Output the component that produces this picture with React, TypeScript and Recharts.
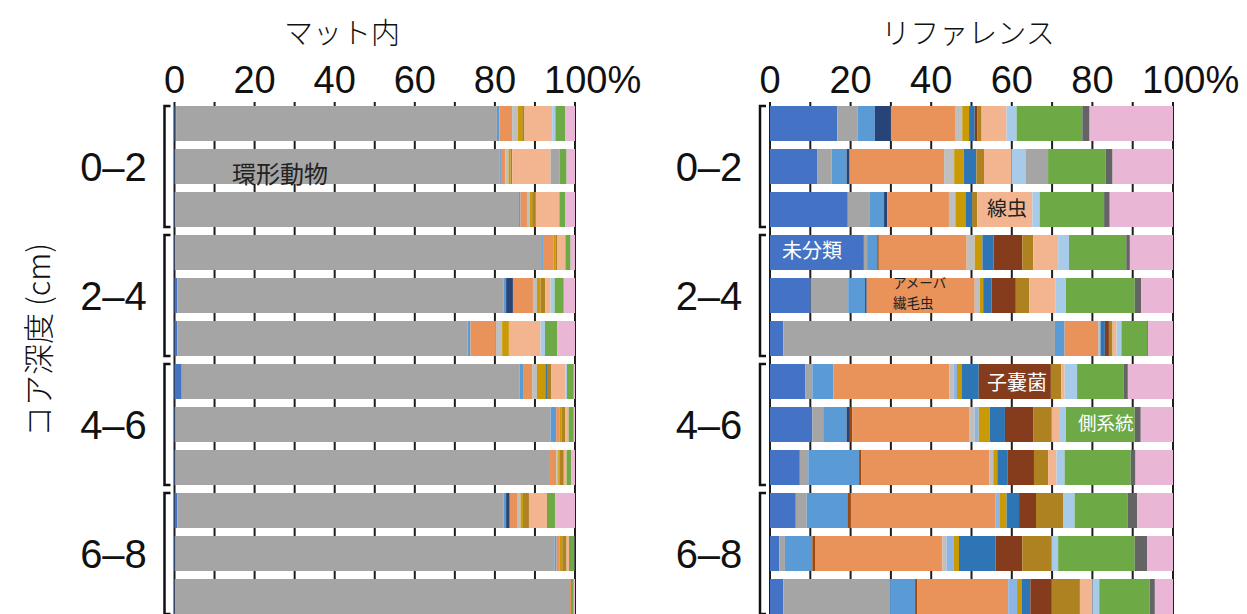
import React from "react";
import { BarChart, Bar, XAxis, YAxis, CartesianGrid } from "recharts";

// one row per bar, top to bottom (3 cores per depth)
const rows = ["0-2a", "0-2b", "0-2c", "2-4a", "2-4b", "2-4c", "4-6a", "4-6b", "4-6c", "6-8a", "6-8b", "6-8c"];
const depthLabels = ["0–2", "2–4", "4–6", "6–8"];
const tickValues = [0, 1, 2, 3, 4, 5, 6, 7, 8, 9, 10].map((i) => i / 10);

// series, left to right in each bar
const seriesKeys = ["unc", "ann", "mblue", "navy", "rust", "amoe", "lgrey", "pblue", "gold", "blue", "asco", "dgold", "nema", "lblue", "grey2", "para", "dgrey", "pink"];
const seriesColors = ["#4472C4", "#A5A5A5", "#5B9BD5", "#264478", "#9E480E", "#E9925A", "#BFBFBF", "#8EB4E3", "#C99A06", "#2E75B6", "#843C1C", "#AE8121", "#F2B590", "#A9CBEA", "#A5A5A5", "#6DA945", "#646464", "#E9B6D5"];

// マット内 (%)
const matUnc = [0.4, 0.2, 0.1, 0.1, 0.7, 0.7, 1.8, 0.2, 0.2, 0.7, 0.2, 0.1];
const matAnn = [80.1, 81.0, 85.9, 91.7, 81.5, 72.5, 84.4, 93.7, 93.3, 81.5, 94.7, 98.4];
const matMblue = [0.6, 0.3, 0.4, 0.4, 0.6, 0.7, 1.0, 1.4, 0.2, 0.6, 0.5, 0];
const matNavy = [0, 0, 0, 0, 1.7, 0, 0, 0, 0, 0.9, 0, 0];
const matRust = [0, 0, 0, 0, 0, 0, 0, 0, 0, 0, 0, 0];
const matAmoe = [3.2, 1.1, 1.6, 2.5, 5.0, 6.2, 2.1, 0.8, 1.6, 2.0, 0.8, 0.5];
const matLgrey = [1.4, 0.8, 0.7, 0, 1.0, 1.7, 1.2, 0, 0.5, 0.7, 0, 0];
const matPblue = [0, 0, 0, 0, 0, 0, 0, 0, 0, 0, 0, 0];
const matGold = [1.1, 0.5, 0.6, 0.4, 0.9, 1.7, 2.1, 0.5, 0.4, 0.6, 0.6, 0];
const matBlue = [0, 0, 0, 0, 0, 0, 0.4, 0, 0, 0, 0, 0];
const matAsco = [0, 0, 0, 0, 0, 0, 0, 0, 0, 0, 0, 0];
const matDgold = [0.6, 0.4, 0.8, 0.4, 1.2, 0, 1.0, 1.0, 1.0, 1.5, 1.1, 0];
const matNema = [6.9, 9.6, 6.0, 2.1, 1.3, 7.9, 3.6, 0.8, 0.7, 4.5, 0.6, 0];
const matLblue = [0.8, 0, 0, 0, 1.0, 1.1, 0.4, 0, 0, 0, 0, 0];
const matGrey2 = [0, 2.3, 0, 0, 0, 0, 0, 0, 0, 0, 0, 0];
const matPara = [2.5, 1.7, 1.5, 1.3, 2.3, 3.1, 1.7, 1.3, 1.2, 2.1, 1.3, 0.7];
const matDgrey = [0, 0, 0, 0, 0, 0, 0, 0, 0, 0, 0.2, 0];
const matPink = [2.4, 2.1, 2.4, 1.1, 2.8, 4.4, 0.3, 0.3, 0.9, 4.9, 0, 0.3];

// リファレンス (%)
const refUnc = [16.7, 11.8, 19.3, 23.3, 10.1, 3.3, 8.8, 10.5, 7.4, 6.4, 2.3, 3.3];
const refAnn = [5.0, 3.5, 5.5, 0.8, 9.3, 67.4, 1.7, 2.7, 2.1, 2.7, 1.4, 26.5];
const refMblue = [4.3, 3.7, 3.5, 2.5, 4.2, 2.4, 5.2, 5.8, 12.6, 10.1, 6.8, 6.2];
const refNavy = [4.0, 0.7, 0.8, 0, 0.4, 0, 0, 0.8, 0, 0, 0, 0];
const refRust = [0, 0, 0, 0.4, 0, 0, 0, 0.6, 0.5, 0.8, 0.8, 0.5];
const refAmoe = [15.9, 23.5, 15.3, 21.8, 26.8, 8.3, 28.8, 29.0, 31.8, 36.0, 31.5, 22.6];
const refLgrey = [1.8, 2.5, 1.6, 2.0, 1.3, 0.6, 1.1, 1.4, 1.0, 0, 1.0, 0];
const refPblue = [0, 0, 0, 0, 0, 0, 0.8, 1.0, 0, 0.9, 1.7, 2.2];
const refGold = [1.7, 2.4, 2.5, 1.9, 0.8, 0, 1.1, 2.7, 1.0, 1.8, 1.4, 1.1];
const refBlue = [1.4, 3.1, 1.7, 2.8, 2.1, 1.1, 4.3, 3.8, 2.5, 3.1, 9.1, 2.2];
const refAsco = [0.6, 0, 0, 7.1, 6.0, 1.0, 17.9, 7.0, 6.6, 4.2, 6.6, 5.2];
const refDgold = [1.1, 1.9, 1.2, 2.7, 3.3, 0.9, 2.6, 4.5, 3.5, 6.7, 7.2, 7.1];
const refNema = [6.2, 6.8, 13.7, 6.2, 6.6, 1.0, 0.8, 1.9, 2.1, 0, 0, 3.1];
const refLblue = [2.5, 3.5, 1.8, 2.7, 2.5, 1.2, 3.1, 1.7, 2.0, 2.9, 1.7, 1.7];
const refGrey2 = [0, 5.6, 0, 0, 0, 0, 0, 0, 0, 0, 0, 0];
const refPara = [16.3, 14.3, 16.0, 14.2, 17.1, 6.4, 11.6, 17.1, 16.4, 13.2, 19.0, 12.5];
const refDgrey = [1.8, 1.7, 1.4, 0.9, 1.6, 0.2, 1.0, 1.5, 1.2, 2.3, 3.1, 1.3];
const refPink = [20.7, 15.0, 15.7, 10.7, 7.9, 6.2, 11.2, 8.0, 9.3, 8.9, 6.4, 4.5];

const matSeries = [matUnc, matAnn, matMblue, matNavy, matRust, matAmoe, matLgrey, matPblue, matGold, matBlue, matAsco, matDgold, matNema, matLblue, matGrey2, matPara, matDgrey, matPink];
const refSeries = [refUnc, refAnn, refMblue, refNavy, refRust, refAmoe, refLgrey, refPblue, refGold, refBlue, refAsco, refDgold, refNema, refLblue, refGrey2, refPara, refDgrey, refPink];

const buildRows = (series: number[][]) =>
  rows.map((row, i) => {
    const rec: Record<string, string | number> = { row };
    seriesKeys.forEach((k, s) => (rec[k] = series[s][i]));
    return rec;
  });

const matData = buildRows(matSeries);
const refData = buildRows(refSeries);

const NUM_FONT = "'Liberation Sans', Arial, sans-serif";
const JP_FONT = "'Noto Sans CJK JP', 'Noto Sans', sans-serif";
const ROW = 43;
const BAR = 35;

const PercentTick = (props: any) => {
  const { x, y, payload } = props;
  const v = Math.round(payload.value * 100);
  if (v % 20 !== 0) return <g />;
  if (v === 100) {
    return (
      <text x={x - 31} y={y - 9} fontSize={38} fontFamily={NUM_FONT} fill="#111" textAnchor="start">
        100%
      </text>
    );
  }
  return (
    <text x={x} y={y - 9} fontSize={38} fontFamily={NUM_FONT} fill="#111" textAnchor="middle">
      {v}
    </text>
  );
};

const DepthTick = (props: any) => {
  const { x, y, payload } = props;
  const idx = rows.indexOf(payload.value);
  if (idx % 3 !== 1) return <g />;
  const half = ROW + BAR / 2;
  return (
    <g>
      <path
        d={`M${x - 4},${y - half} H${x - 10} V${y + half} H${x - 4}`}
        fill="none"
        stroke="#111"
        strokeWidth={2.5}
      />
      <text x={x - 61} y={y} fontSize={40} fontFamily={NUM_FONT} fill="#111" textAnchor="middle" dominantBaseline="central">
        {depthLabels[Math.floor(idx / 3)]}
      </text>
    </g>
  );
};

function Panel({ data, width, right, axisWidth }: { data: any[]; width: number; right: number; axisWidth: number }) {
  return (
    <BarChart
      width={width}
      height={618}
      data={data}
      layout="vertical"
      stackOffset="expand"
      margin={{ top: 0, right, bottom: 0, left: 0 }}
    >
      <CartesianGrid vertical horizontal={false} stroke="#1e1e1e" strokeWidth={2} />
      <XAxis
        type="number"
        orientation="top"
        domain={[0, 1]}
        ticks={tickValues}
        height={102}
        axisLine={false}
        tickLine={false}
        tickSize={0}
        tickMargin={0}
        tick={<PercentTick />}
        interval={0}
      />
      <YAxis
        type="category"
        dataKey="row"
        width={axisWidth}
        axisLine={false}
        tickLine={false}
        tickSize={0}
        tickMargin={0}
        tick={<DepthTick />}
        interval={0}
      />
      {seriesKeys.map((k, i) => (
        <Bar key={k} dataKey={k} stackId="a" fill={seriesColors[i]} barSize={BAR} isAnimationActive={false} />
      ))}
    </BarChart>
  );
}

export default function App() {
  return (
    <div style={{ position: "absolute", left: 0, top: 0, width: 1247, height: 614, overflow: "hidden", background: "#fff" }}>
      <div style={{ position: "absolute", left: 0, top: 0 }}>
        <Panel data={matData} width={680} right={105} axisWidth={174.5} />
      </div>
      <div style={{ position: "absolute", left: 600, top: 0 }}>
        <Panel data={refData} width={647} right={74} axisWidth={170} />
      </div>
      <svg width={1247} height={614} style={{ position: "absolute", left: 0, top: 0, pointerEvents: "none" }}>
        <g fontFamily={JP_FONT}>
          <text x={342} y={31} fontSize={29} fontWeight={300} fill="#111" textAnchor="middle" dominantBaseline="central">
            マット内
          </text>
          <text x={968} y={31} fontSize={29} fontWeight={300} fill="#111" textAnchor="middle" dominantBaseline="central">
            リファレンス
          </text>
          <text
            x={36}
            y={340}
            fontSize={31}
            fontWeight={300}
            fill="#111"
            textAnchor="middle"
            dominantBaseline="central"
            transform="rotate(-90 36 340)"
          >
            コア深度 (cm)
          </text>
          <text x={280} y={172} fontSize={24} fill="#222" textAnchor="middle" dominantBaseline="central">
            環形動物
          </text>
          <text x={1007} y={207} fontSize={20} fill="#222" textAnchor="middle" dominantBaseline="central">
            線虫
          </text>
          <text x={782} y={249} fontSize={20} fill="#fff" dominantBaseline="central">
            未分類
          </text>
          <text x={893} y={282} fontSize={13.5} fill="#222" dominantBaseline="central">
            アメーバ
          </text>
          <text x={893} y={302} fontSize={13.5} fill="#222" dominantBaseline="central">
            繊毛虫
          </text>
          <text x={987} y={381} fontSize={20} fill="#fff" dominantBaseline="central">
            子嚢菌
          </text>
          <text x={1078} y={422} fontSize={18.5} fill="#fff" dominantBaseline="central">
            側系統
          </text>
        </g>
      </svg>
    </div>
  );
}
